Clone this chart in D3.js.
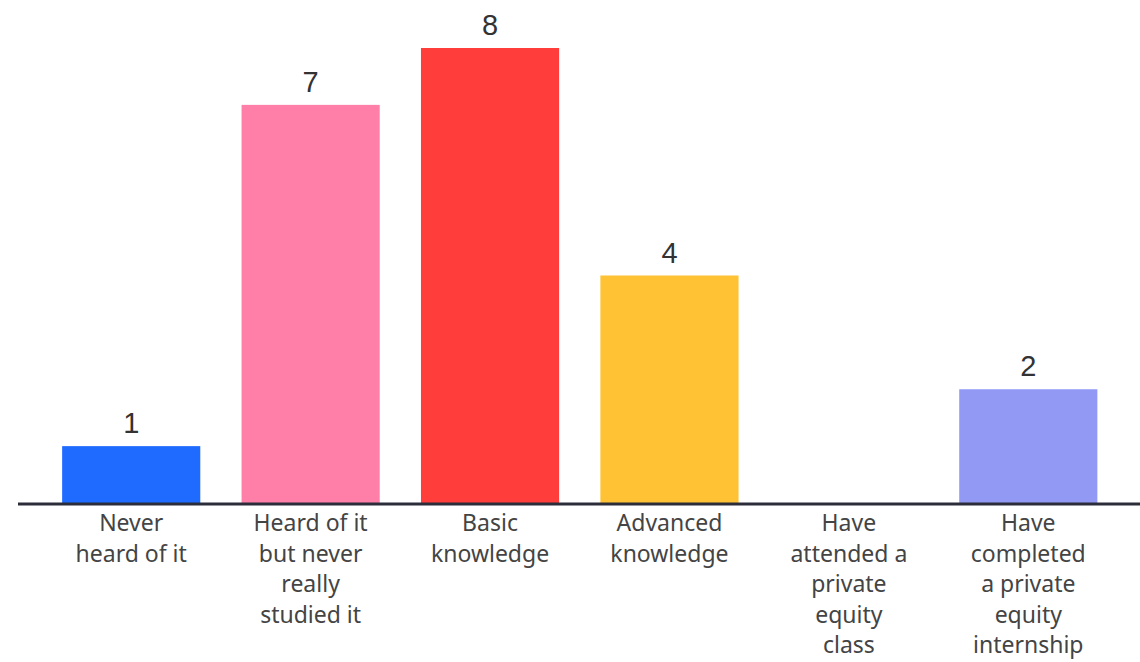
<!DOCTYPE html>
<html>
<head>
<meta charset="utf-8">
<script src="https://cdn.jsdelivr.net/npm/d3@7"></script>
<style>
  html, body { margin: 0; padding: 0; background: #fff; }
  svg { display: block; }
</style>
</head>
<body>
<svg id="chart"></svg>
<script>
const categories = [
  ["Never", "heard of it"],
  ["Heard of it", "but never", "really", "studied it"],
  ["Basic", "knowledge"],
  ["Advanced", "knowledge"],
  ["Have", "attended a", "private", "equity", "class"],
  ["Have", "completed", "a private", "equity", "internship"]
];
const values = [1, 7, 8, 4, 0, 2];
const colors = ["#1f6bff", "#ff7fa8", "#ff3d3b", "#ffc235", "#ffffff", "#9199f5"];

const width = 1140;
const height = 662;

const svg = d3.select("#chart")
    .attr("width", width)
    .attr("height", height);

const ids = categories.map((c, i) => i);

const x = d3.scaleBand()
    .domain(ids)
    .range([41.5, 1118])
    .paddingInner(0.23)
    .paddingOuter(0.115);

const y = d3.scaleLinear()
    .domain([0, 8])
    .range([503, 48]);

// bars
svg.append("g")
    .selectAll("rect")
    .data(values)
    .enter().append("rect")
    .attr("x", (d, i) => x(i))
    .attr("y", d => y(d))
    .attr("width", x.bandwidth())
    .attr("height", d => y(0) - y(d))
    .attr("fill", (d, i) => colors[i]);

// value labels (skip zero)
svg.append("g")
    .selectAll("text")
    .data(values.map((v, i) => ({ v, i })).filter(d => d.v > 0))
    .enter().append("text")
    .attr("x", d => x(d.i) + x.bandwidth() / 2)
    .attr("y", d => y(d.v) - 13)
    .attr("text-anchor", "middle")
    .attr("font-family", "'Liberation Sans', Arial, sans-serif")
    .attr("font-size", 29)
    .attr("fill", "#333")
    .text(d => d.v);

// baseline
svg.append("line")
    .attr("x1", 18)
    .attr("x2", width)
    .attr("y1", y(0) + 1)
    .attr("y2", y(0) + 1)
    .attr("stroke", "#2b2e3a")
    .attr("stroke-width", 3);

// category labels
const labels = svg.append("g")
    .attr("font-family", "'Noto Sans', sans-serif")
    .attr("font-size", 23)
    .attr("fill", "#444")
    .attr("text-anchor", "middle");

categories.forEach((lines, i) => {
  const t = labels.append("text")
      .attr("x", x(i) + x.bandwidth() / 2)
      .attr("y", 531);
  lines.forEach((line, j) => {
    t.append("tspan")
        .attr("x", x(i) + x.bandwidth() / 2)
        .attr("dy", j === 0 ? 0 : 30.5)
        .text(line);
  });
});
</script>
</body>
</html>
